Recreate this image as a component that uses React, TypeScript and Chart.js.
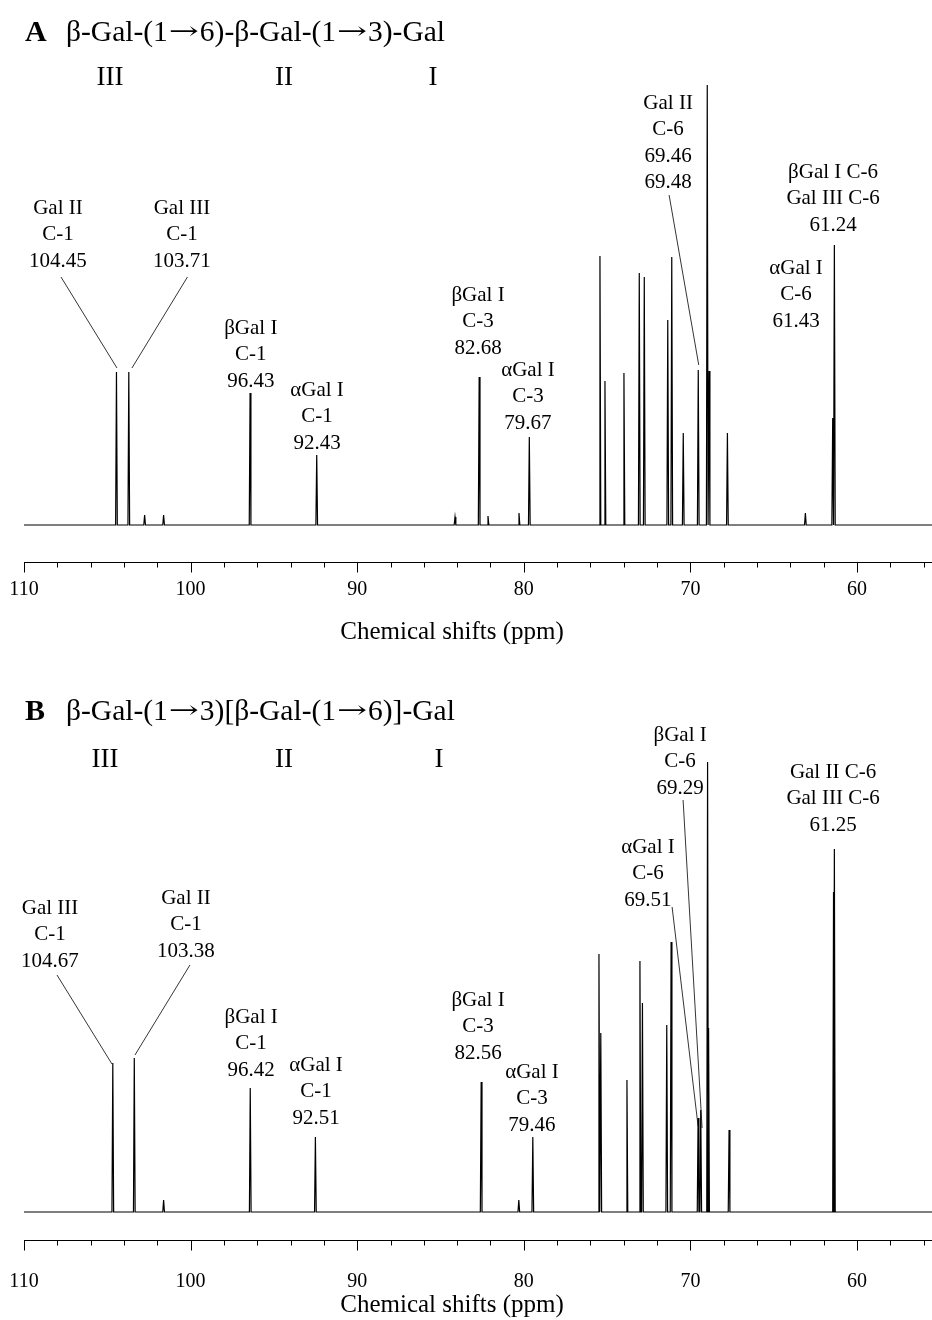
import React, { useEffect, useRef } from 'react';
import { Chart, registerables } from 'chart.js';

Chart.register(...registerables);

// ---------- data ----------
const xTickValues = [110, 108, 106, 104, 102, 100, 98, 96, 94, 92, 90, 88, 86, 84, 82, 80, 78, 76, 74, 72, 70, 68, 66, 64, 62, 60, 58, 56];
const xMin = 55.5;
const xMax = 110;
const axisTitle = 'Chemical shifts (ppm)';

// Panel A: β-Gal-(1→6)-β-Gal-(1→3)-Gal
const peaksA_ppm = [104.45, 103.71, 102.76, 101.62, 96.43, 92.43, 84.13, 82.68, 82.15, 80.29, 79.67, 75.43, 75.13, 73.99, 73.07, 72.77, 71.36, 71.12, 70.43, 69.53, 68.99, 68.88, 67.78, 63.1, 61.46, 61.36];
const peaksA_int = [153, 153, 10, 10, 132, 70, 8, 148, 9, 12, 88, 269, 144, 152, 252, 248, 205, 268, 92, 155, 440, 154, 92, 12, 107, 280];

// Panel B: β-Gal-(1→3)[β-Gal-(1→6)]-Gal
const peaksB_ppm = [104.67, 103.38, 101.62, 96.42, 92.51, 82.56, 80.3, 79.46, 75.49, 75.38, 73.81, 73.03, 72.88, 71.42, 71.16, 69.54, 69.38, 68.97, 68.91, 67.68, 61.41, 61.36];
const peaksB_int = [149, 154, 12, 124, 75, 130, 12, 75, 258, 179, 132, 251, 209, 187, 270, 94, 102, 450, 184, 82, 320, 363];

const titleA = 'β-Gal-(1→6)-β-Gal-(1→3)-Gal';
const titleB = 'β-Gal-(1→3)[β-Gal-(1→6)]-Gal';
const residues = ['III', 'II', 'I'];

type Ann = { lines: string[]; x: number; y: number; leader?: [number, number, number, number] };

// label anchors / leader lines in data units (ppm, intensity)
const annotationsA: Ann[] = [
  { lines: ['Gal II', 'C-1', '104.45'], x: 107.96, y: 317, leader: [107.78, 248, 104.42, 157] },
  { lines: ['Gal III', 'C-1', '103.71'], x: 100.52, y: 317, leader: [100.19, 248, 103.52, 157] },
  { lines: ['βGal I', 'C-1', '96.43'], x: 96.39, y: 197 },
  { lines: ['αGal I', 'C-1', '92.43'], x: 92.41, y: 135 },
  { lines: ['βGal I', 'C-3', '82.68'], x: 82.75, y: 230 },
  { lines: ['αGal I', 'C-3', '79.67'], x: 79.75, y: 155 },
  { lines: ['Gal II', 'C-6', '69.46', '69.48'], x: 71.34, y: 422, leader: [71.28, 330, 69.5, 160] },
  { lines: ['βGal I C-6', 'Gal III C-6', '61.24'], x: 61.44, y: 353 },
  { lines: ['αGal I', 'C-6', '61.43'], x: 63.66, y: 257 },
];

const annotationsB: Ann[] = [
  { lines: ['Gal III', 'C-1', '104.67'], x: 108.44, y: 304, leader: [108.02, 237, 104.72, 148] },
  { lines: ['Gal II', 'C-1', '103.38'], x: 100.28, y: 314, leader: [100.04, 247, 103.34, 157] },
  { lines: ['βGal I', 'C-1', '96.42'], x: 96.37, y: 195 },
  { lines: ['αGal I', 'C-1', '92.51'], x: 92.47, y: 147 },
  { lines: ['βGal I', 'C-3', '82.56'], x: 82.75, y: 212 },
  { lines: ['αGal I', 'C-3', '79.46'], x: 79.51, y: 140 },
  { lines: ['βGal I', 'C-6', '69.29'], x: 70.62, y: 477, leader: [70.44, 412, 69.3, 84] },
  { lines: ['αGal I', 'C-6', '69.51'], x: 72.55, y: 365, leader: [71.1, 305, 69.54, 86] },
  { lines: ['Gal II C-6', 'Gal III C-6', '61.25'], x: 61.44, y: 440 },
];

// ---------- rendering ----------
const SERIF = '"Liberation Serif", "Times New Roman", serif';
const ARROWFONT = '"DejaVu Serif", serif';

function buildLine(ppm: number[], inten: number[]) {
  const pts: { x: number; y: number }[] = [{ x: xMax, y: 0 }];
  ppm.forEach((p, i) => {
    pts.push({ x: p + 0.05, y: 0 }, { x: p, y: inten[i] }, { x: p - 0.05, y: 0 });
  });
  pts.push({ x: xMin, y: 0 });
  return pts;
}

// draws text, widening the arrow glyph to the long arrow of the original typesetting
function drawMixed(ctx: CanvasRenderingContext2D, text: string, x: number, y: number, size: number, arrowW: number) {
  const parts = text.split('→');
  let cx = x;
  parts.forEach((p, i) => {
    ctx.font = `${size}px ${SERIF}`;
    ctx.fillText(p, cx, y);
    cx += ctx.measureText(p).width;
    if (i < parts.length - 1) {
      ctx.font = `${size * 0.8}px ${ARROWFONT}`;
      const w = ctx.measureText('→').width;
      ctx.save();
      ctx.translate(cx + 1, y);
      ctx.scale((arrowW - 2) / w, 1);
      ctx.fillText('→', 0, 0);
      ctx.restore();
      cx += arrowW;
    }
  });
}

type PanelCfg = {
  letter: string;
  title: string;
  ppm: number[];
  inten: number[];
  ann: Ann[];
  height: number;
  yMin: number;
  yMax: number;
  axisHeight: number;
  tickPad: number;
  axisTitleY: number;
  titleY: number;
  numY: number;
  numX: number[];
};

function makePlugin(cfg: PanelCfg) {
  return {
    id: 'nmrDecor' + cfg.letter,
    afterDraw(chart: any) {
      const ctx = chart.ctx as CanvasRenderingContext2D;
      const xs = chart.scales.x;
      const ys = chart.scales.y;
      const area = chart.chartArea;
      ctx.save();
      ctx.strokeStyle = '#000';
      ctx.fillStyle = '#000';
      // axis line + ticks
      const ay = Math.round(area.bottom) + 0.5;
      ctx.lineWidth = 1;
      ctx.beginPath();
      ctx.moveTo(area.left, ay);
      ctx.lineTo(area.right, ay);
      xTickValues.forEach((v) => {
        const px = Math.round(xs.getPixelForValue(v)) + 0.5;
        const len = v % 10 === 0 ? 10 : 5;
        ctx.moveTo(px, ay);
        ctx.lineTo(px, ay + len);
      });
      ctx.stroke();

      // axis title
      ctx.textBaseline = 'middle';
      ctx.textAlign = 'center';
      ctx.font = `25px ${SERIF}`;
      ctx.fillText(axisTitle, 452, cfg.axisTitleY);

      // panel title
      ctx.textAlign = 'left';
      ctx.font = `bold 30px ${SERIF}`;
      ctx.fillText(cfg.letter, 25, cfg.titleY);
      drawMixed(ctx, cfg.title, 66, cfg.titleY, 29.5, 32);
      ctx.textAlign = 'center';
      ctx.font = `27px ${SERIF}`;
      residues.forEach((r, i) => ctx.fillText(r, cfg.numX[i], cfg.numY));

      // annotations
      ctx.font = `21px ${SERIF}`;
      cfg.ann.forEach((a) => {
        const cx = xs.getPixelForValue(a.x);
        const cy = ys.getPixelForValue(a.y);
        a.lines.forEach((t, i) => ctx.fillText(t, cx, cy + i * 26.5));
        if (a.leader) {
          const [x1, y1, x2, y2] = a.leader;
          ctx.lineWidth = 0.8;
          ctx.beginPath();
          ctx.moveTo(xs.getPixelForValue(x1), ys.getPixelForValue(y1));
          ctx.lineTo(xs.getPixelForValue(x2), ys.getPixelForValue(y2));
          ctx.stroke();
        }
      });
      ctx.restore();
    },
  };
}

function Panel({ cfg, top }: { cfg: PanelCfg; top: number }) {
  const ref = useRef<HTMLCanvasElement | null>(null);
  useEffect(() => {
    if (!ref.current) return;
    const chart = new Chart(ref.current, {
      type: 'line',
      data: {
        datasets: [
          {
            data: buildLine(cfg.ppm, cfg.inten),
            borderColor: '#000',
            borderWidth: 1.2,
            pointRadius: 0,
            tension: 0,
            fill: false,
          },
        ],
      },
      options: {
        responsive: false,
        animation: false,
        events: [],
        layout: { padding: { left: 24, right: 0, top: 80, bottom: 0 } },
        plugins: { legend: { display: false }, tooltip: { enabled: false }, title: { display: false } },
        scales: {
          x: {
            type: 'linear',
            reverse: true,
            min: xMin,
            max: xMax,
            afterBuildTicks: (scale: any) => {
              scale.ticks = xTickValues.map((v) => ({ value: v }));
            },
            afterFit: (scale: any) => {
              scale.height = cfg.axisHeight;
              scale.paddingLeft = 0;
              scale.paddingRight = 0;
            },
            grid: { display: false, drawTicks: false },
            border: { display: false },
            ticks: {
              autoSkip: false,
              maxRotation: 0,
              padding: cfg.tickPad,
              color: '#000',
              font: { family: SERIF, size: 20 },
              callback: (v: any) => (Number(v) % 10 === 0 ? String(v) : ''),
            },
            title: { display: false },
          },
          y: { display: false, min: cfg.yMin, max: cfg.yMax },
        },
      },
      plugins: [makePlugin(cfg)],
    } as any);
    return () => chart.destroy();
  }, []);
  return (
    <canvas
      ref={ref}
      width={932}
      height={cfg.height}
      style={{ position: 'absolute', left: 0, top, width: 932, height: cfg.height, display: 'block' }}
    />
  );
}

const cfgA: PanelCfg = {
  letter: 'A',
  title: titleA,
  ppm: peaksA_ppm,
  inten: peaksA_int,
  ann: annotationsA,
  height: 680,
  yMin: -37,
  yMax: 445,
  axisHeight: 118,
  tickPad: 16,
  axisTitleY: 632,
  titleY: 33,
  numY: 78,
  numX: [110, 284, 433],
};

const cfgB: PanelCfg = {
  letter: 'B',
  title: titleB,
  ppm: peaksB_ppm,
  inten: peaksB_int,
  ann: annotationsB,
  height: 640,
  yMin: -28,
  yMax: 452,
  axisHeight: 80,
  tickPad: 30,
  axisTitleY: 625,
  titleY: 32,
  numY: 80,
  numX: [105, 284, 439],
};

export default function App() {
  return (
    <div style={{ position: 'absolute', left: 0, top: 0, width: 932, height: 1320, background: '#fff', overflow: 'hidden' }}>
      <Panel cfg={cfgA} top={0} />
      <Panel cfg={cfgB} top={680} />
    </div>
  );
}
